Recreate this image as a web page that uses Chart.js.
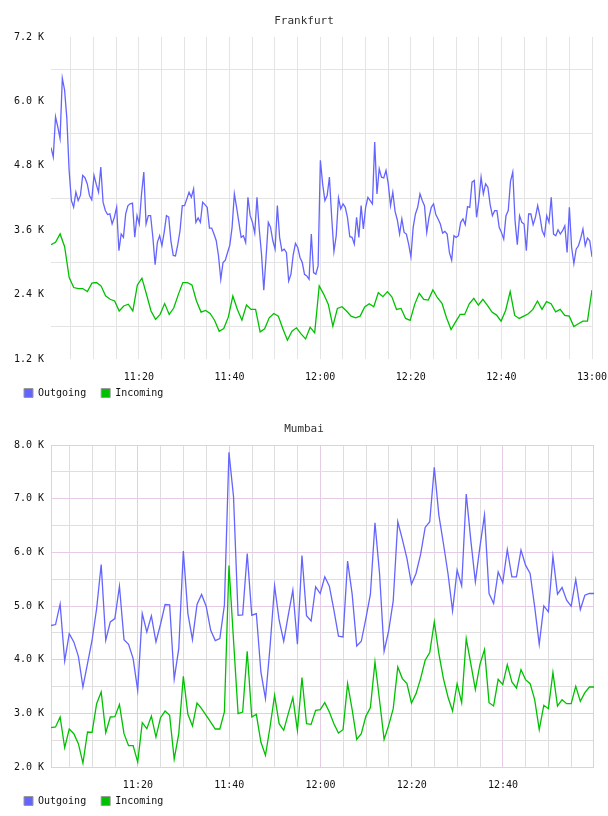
<!DOCTYPE html>
<html>
<head>
<meta charset="utf-8">
<title>Frankfurt / Mumbai traffic</title>
<script src="https://cdn.jsdelivr.net/npm/chart.js@4.4.0/dist/chart.umd.min.js"></script>
<style>
  html, body { margin: 0; padding: 0; background: #fff; }
  .box { position: absolute; left: 0; width: 608px; height: 408px; }
  #top-box { top: 0; }
  #bottom-box { top: 408px; }
</style>
</head>
<body>
<div class="box" id="top-box"><canvas id="frankfurt"></canvas></div>
<div class="box" id="bottom-box"><canvas id="mumbai"></canvas></div>
<script>
// x values are minutes after 11:00
const frankfurtRange = [0.6, 120];
const mumbaiRange = [0.95, 119.95];

// Frankfurt outgoing is sampled every 30 s, incoming every minute
const frankfurtOutgoing = [
  5140, 4965, 5714, 5527, 5308, 6432, 6213, 5683, 4716, 4154,
  4029, 4310, 4154, 4248, 4622, 4578, 4466, 4248, 4166, 4622,
  4453, 4310, 4778, 4123, 3967, 3892, 3904, 3717, 3842, 4029,
  3218, 3530, 3468, 3904, 4060, 4092, 4104, 3468, 3873, 3717,
  4279, 4684, 3717, 3873, 3873, 3468, 2956, 3374, 3499, 3312,
  3561, 3873, 3842, 3390, 3130, 3120, 3330, 3590, 4058, 4058,
  4183, 4308, 4214, 4370, 3746, 3828, 3746, 4121, 4077, 4027,
  3640, 3640, 3528, 3403, 3122, 2686, 2998, 3041, 3185, 3322,
  3653, 4277, 4027, 3746, 3466, 3497, 3372, 4214, 3871, 3746,
  3547, 4214, 3622, 3154, 2480, 3091, 3746, 3653, 3403, 3247,
  4058, 3466, 3216, 3247, 3185, 2654, 2779, 3141, 3353, 3278,
  3091, 2998, 2779, 2748, 2686, 3528, 2810, 2779, 2935, 4901,
  4464, 4152, 4246, 4589, 3840, 3204, 3497, 4202, 3996, 4090,
  4027, 3828, 3478, 3466, 3341, 3840, 3466, 4058, 3622, 4027,
  4214, 4152, 4090, 5244, 4277, 4745, 4589, 4576, 4714, 4464,
  4058, 4308, 3952, 3790, 3528, 3809, 3559, 3528, 3341, 3104,
  3653, 3902, 4027, 4277, 4152, 4058, 3559, 3840, 4027, 4090,
  3890, 3809, 3715, 3547, 3578, 3528, 3185, 3041, 3497, 3466,
  3497, 3746, 3809, 3703, 4040, 4027, 4495, 4526, 3840, 4152,
  4589, 4277, 4464, 4402, 4077, 3871, 3965, 3965, 3653, 3559,
  3434, 3871, 3965, 4508, 4682, 3778, 3328, 3871, 3746, 3715,
  3216, 3902, 3902, 3703, 3840, 4058, 3859, 3590, 3497, 3871,
  3746, 4214, 3528, 3497, 3609, 3528, 3590, 3684, 3185, 4027,
  3278, 2979, 3247, 3310, 3447, 3622, 3310, 3453, 3403, 3104
];
const frankfurtIncoming = [
  3330, 3374, 3530, 3293, 2719, 2532, 2513, 2513, 2457, 2613,
  2625, 2563, 2376, 2313, 2282, 2095, 2188, 2220, 2095, 2581,
  2706, 2407, 2095, 1939, 2032, 2232, 2030, 2150, 2400, 2623,
  2623, 2580, 2280, 2074, 2105, 2049, 1918, 1718, 1768, 1980,
  2374, 2124, 1924, 2205, 2124, 2124, 1706, 1762, 1968, 2049,
  1999, 1762, 1550, 1718, 1781, 1669, 1575, 1793, 1687, 2561,
  2405, 2218, 1812, 2143, 2174, 2093, 1999, 1968, 1999, 2168,
  2230, 2174, 2436, 2361, 2455, 2355, 2124, 2143, 1956, 1918,
  2218, 2424, 2311, 2299, 2486, 2342, 2236, 1968, 1750, 1893,
  2030, 2030, 2230, 2330, 2205, 2311, 2199, 2074, 2018, 1906,
  2105, 2455, 2012, 1956, 1999, 2043, 2124, 2280, 2124, 2268,
  2230, 2080, 2124, 2012, 1999, 1806, 1856, 1906, 1906, 2486
];

// Mumbai, one sample a minute
const mumbaiOutgoing = [
  4636, 4654, 5034, 3976, 4486, 4331, 4063, 3491, 3927, 4362,
  4953, 5774, 4362, 4704, 4766, 5369, 4374, 4287, 4020, 3429,
  4860, 4517, 4816, 4331, 4660, 5027, 5021, 3640, 4206, 6022,
  4859, 4374, 5027, 5214, 4996, 4548, 4356, 4393, 5015, 7863,
  7036, 4828, 4834, 5979, 4828, 4859, 3771, 3274, 4237, 5376,
  4735, 4343, 4828, 5295, 4287, 5942, 4820, 4720, 5357, 5233,
  5544, 5369, 4922, 4437, 4424, 5836, 5220, 4256, 4343, 4766,
  5220, 6551, 5606, 4157, 4536, 5096, 6570, 6240, 5886, 5407,
  5606, 5960, 6464, 6570, 7583, 6694, 6165, 5606, 4909, 5668,
  5376, 7086, 6228, 5450, 6103, 6694, 5233, 5046, 5637, 5432,
  6053, 5544, 5544, 6041, 5761, 5606, 4984, 4287, 5003, 4891,
  5929, 5220, 5344, 5108, 4996, 5494, 4934, 5201, 5233, 5233
];
const mumbaiIncoming = [
  2733, 2745, 2932, 2359, 2708, 2621, 2434, 2073, 2652, 2645,
  3180, 3398, 2639, 2932, 2938, 3162, 2621, 2397, 2397, 2092,
  2826, 2714, 2950, 2558, 2919, 3043, 2963, 2145, 2621, 3690,
  2981, 2764, 3193, 3087, 2963, 2838, 2708, 2708, 3025, 5755,
  4362, 2994, 3025, 4157, 2932, 2981, 2465, 2216, 2745, 3336,
  2807, 2683, 2994, 3292, 2683, 3665, 2807, 2795, 3056, 3068,
  3199, 3025, 2807, 2633, 2695, 3553, 3068, 2515, 2621, 2944,
  3106, 3958, 3243, 2515, 2776, 3087, 3864, 3647, 3553, 3193,
  3367, 3647, 3989, 4132, 4704, 4113, 3647, 3305, 3043, 3553,
  3199, 4393, 3927, 3442, 3914, 4188, 3199, 3137, 3634, 3535,
  3908, 3585, 3472, 3815, 3628, 3553, 3255, 2695, 3149, 3087,
  3759, 3137, 3255, 3180, 3180, 3504, 3224, 3386, 3491, 3491
];

const FONT = "'DejaVu Sans Mono', monospace";
const BLUE = '#6464ff';
const GREEN = '#00c000';
const GRAY = '#e4e4e4';
const PINK = '#e6cbe6';
const LEGEND_TOP = 388;   // top of the legend boxes inside each canvas

// samples are evenly spaced over the time window
function spread(values, range) {
  const step = (range[1] - range[0]) / (values.length - 1);
  return values.map((v, i) => ({ x: range[0] + i * step, y: v }));
}

function clock(v) {
  const m = Math.round(v);
  return (11 + Math.floor(m / 60)) + ':' + String(m % 60).padStart(2, '0');
}

const legendNudge = {
  id: 'legendNudge',
  afterLayout(chart) {
    const pad = chart.options.plugins.legend.labels.padding;
    chart.legend.left = 24 - pad;
    chart.legend.top = LEGEND_TOP - pad;
  }
};

function framePlugin(color) {
  return {
    id: 'frame',
    beforeDatasetsDraw(chart) {
      if (!color) return;
      const { ctx, chartArea: a } = chart;
      ctx.save();
      ctx.strokeStyle = color;
      ctx.lineWidth = 1;
      ctx.strokeRect(Math.round(a.left) + 0.5, Math.round(a.top) + 0.5,
        Math.round(a.right) - Math.round(a.left) - 1, Math.round(a.bottom) - Math.round(a.top));
      ctx.restore();
    }
  };
}

function makeChart(id, cfg) {
  new Chart(document.getElementById(id), {
    type: 'line',
    data: {
      datasets: [
        { label: 'Outgoing', data: spread(cfg.outgoing, cfg.range), borderColor: BLUE, backgroundColor: BLUE },
        { label: 'Incoming', data: spread(cfg.incoming, cfg.range), borderColor: GREEN, backgroundColor: GREEN }
      ]
    },
    options: {
      responsive: true,
      maintainAspectRatio: false,
      animation: false,
      elements: { point: { radius: 0 }, line: { borderWidth: 1.3, tension: 0 } },
      plugins: {
        title: {
          display: true, text: cfg.title, color: '#333',
          font: { family: FONT, size: 11, weight: 'normal' },
          padding: { top: 15, bottom: 8.8 }
        },
        legend: {
          position: 'bottom', align: 'start', maxHeight: 24,
          labels: {
            boxWidth: 9, boxHeight: 9, padding: 15, color: '#111',
            font: { family: FONT, size: 10 },
            generateLabels: chart => chart.data.datasets.map((ds, i) => ({
              text: ds.label, fillStyle: ds.borderColor, strokeStyle: '#999',
              lineWidth: 1, hidden: false, datasetIndex: i, fontColor: '#111'
            }))
          }
        },
        tooltip: { enabled: false }
      },
      scales: {
        x: {
          type: 'linear', min: cfg.range[0], max: cfg.range[1],
          border: { display: false },
          grid: { drawTicks: false, color: cfg.xGrid },
          ticks: {
            stepSize: 5, autoSkip: false, includeBounds: false, maxRotation: 0, minRotation: 0,
            padding: 12, color: '#111', font: { family: FONT, size: 10 },
            callback: v => (Math.round(v) % 20 === 0 ? clock(v) : '')
          },
          afterFit(s) { s.height = 25; s.paddingLeft = 0; s.paddingRight = cfg.padRight; }
        },
        y: {
          min: cfg.yMin, max: cfg.yMax,
          border: { display: false },
          grid: { drawTicks: false, color: cfg.yGrid },
          ticks: {
            stepSize: cfg.yStep, padding: 7, color: '#111', font: { family: FONT, size: 10 },
            callback: v => (Math.round(v) % cfg.yLabelEvery === 0 ? (v / 1000).toFixed(1) + ' K' : '')
          },
          afterFit(s) { s.width = 51; s.paddingTop = 0; s.paddingBottom = 0; }
        }
      }
    },
    plugins: [framePlugin(cfg.frame), legendNudge]
  });
}

makeChart('frankfurt', {
  title: 'Frankfurt',
  outgoing: frankfurtOutgoing,
  incoming: frankfurtIncoming,
  range: frankfurtRange,
  padRight: 16,
  yMin: 1200, yMax: 7200, yStep: 600, yLabelEvery: 1200,
  xGrid: GRAY,
  yGrid: ctx => (Math.round(ctx.tick.value) % 1200 === 0 ? 'rgba(0,0,0,0)' : GRAY),
  frame: null
});

makeChart('mumbai', {
  title: 'Mumbai',
  outgoing: mumbaiOutgoing,
  incoming: mumbaiIncoming,
  range: mumbaiRange,
  padRight: 14,
  yMin: 2000, yMax: 8000, yStep: 500, yLabelEvery: 1000,
  xGrid: ctx => (Math.round(ctx.tick.value) % 20 === 0 ? PINK : '#dedede'),
  yGrid: ctx => (Math.round(ctx.tick.value) % 1000 === 0 ? PINK : '#dedede'),
  frame: PINK
});
</script>
</body>
</html>
